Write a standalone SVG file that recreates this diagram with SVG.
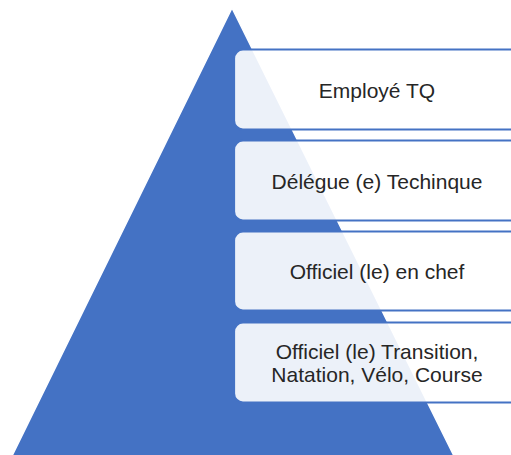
<svg xmlns="http://www.w3.org/2000/svg" width="511" height="455" viewBox="0 0 511 455">
<style>
.box{fill:#ffffff;fill-opacity:0.9;stroke:#4472C4;stroke-width:2.2}
.lbl{font-family:"Liberation Sans",Arial,sans-serif;font-size:21px;fill:#262626;text-anchor:middle}
</style>
<rect width="511" height="455" fill="#ffffff"/>
<g id="pyramid">
<polygon points="232,8 456,460 10,460" fill="#4472C4" stroke="#ffffff" stroke-width="1.5"/>
</g>
<g id="connectors"></g>
<g id="node1">
<rect class="box" x="234" y="49.5" width="290" height="80" rx="9"/>
<text class="lbl" x="377" y="98">Employé TQ</text>
</g>
<g id="node2">
<rect class="box" x="234" y="140.5" width="290" height="80" rx="9"/>
<text class="lbl" x="377" y="189">Délégue (e) Techinque</text>
</g>
<g id="node3">
<rect class="box" x="234" y="231.5" width="290" height="79" rx="9"/>
<text class="lbl" x="377" y="279">Officiel (le) en chef</text>
</g>
<g id="node4">
<rect class="box" x="234" y="322.5" width="290" height="80" rx="9"/>
<text class="lbl" x="377" y="358.5">Officiel (le) Transition,</text>
<text class="lbl" x="377" y="382">Natation, Vélo, Course</text>
</g>
</svg>
